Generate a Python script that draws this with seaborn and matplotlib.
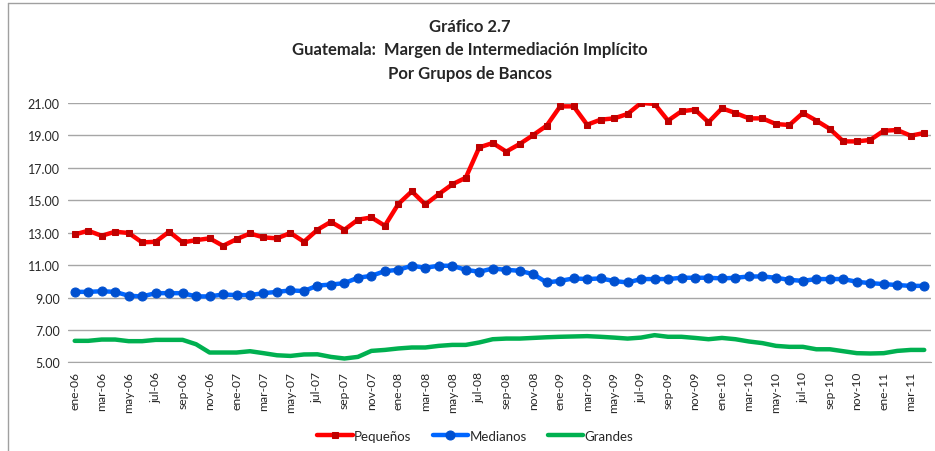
import numpy as np
import pandas as pd
import matplotlib
matplotlib.use("Agg")
import matplotlib.pyplot as plt
import seaborn as sns
from matplotlib.lines import Line2D

# monthly series, ene-06 .. abr-11
months_es = ["ene", "feb", "mar", "abr", "may", "jun",
             "jul", "ago", "sep", "oct", "nov", "dic"]
periods = [f"{months_es[m]}-{y:02d}" for y in range(6, 12) for m in range(12)][:64]

pequenos = [12.89, 13.12, 12.81, 13.06, 12.98, 12.40, 12.44, 13.06, 12.40, 12.54,
            12.65, 12.19, 12.60, 12.95, 12.71, 12.65, 12.98, 12.44, 13.18, 13.67,
            13.18, 13.80, 13.94, 13.43, 14.77, 15.55, 14.74, 15.38, 15.98, 16.39,
            18.26, 18.53, 18.00, 18.47, 19.02, 19.60, 20.79, 20.79, 19.66, 19.97,
            20.05, 20.32, 21.00, 20.94, 19.91, 20.49, 20.59, 19.81, 20.67, 20.38,
            20.05, 20.05, 19.70, 19.64, 20.38, 19.91, 19.40, 18.63, 18.63, 18.72,
            19.29, 19.33, 18.98, 19.15]

medianos = [9.35, 9.35, 9.39, 9.35, 9.11, 9.07, 9.27, 9.27, 9.27, 9.07,
            9.07, 9.19, 9.15, 9.15, 9.27, 9.35, 9.44, 9.40, 9.74, 9.80,
            9.89, 10.22, 10.34, 10.63, 10.71, 10.96, 10.84, 10.96, 10.96, 10.71,
            10.59, 10.79, 10.71, 10.65, 10.44, 9.93, 10.03, 10.18, 10.14, 10.18,
            10.02, 9.93, 10.14, 10.14, 10.14, 10.22, 10.22, 10.22, 10.18, 10.22,
            10.30, 10.30, 10.22, 10.09, 10.03, 10.14, 10.14, 10.14, 9.97, 9.89,
            9.83, 9.77, 9.72, 9.72]

grandes = [6.33, 6.33, 6.41, 6.41, 6.31, 6.31, 6.39, 6.39, 6.39, 6.12,
           5.61, 5.61, 5.61, 5.69, 5.57, 5.44, 5.40, 5.49, 5.50, 5.34,
           5.24, 5.34, 5.71, 5.77, 5.86, 5.92, 5.92, 6.02, 6.08, 6.08,
           6.23, 6.43, 6.47, 6.47, 6.51, 6.55, 6.58, 6.60, 6.62, 6.58,
           6.53, 6.47, 6.53, 6.68, 6.58, 6.58, 6.51, 6.43, 6.51, 6.43,
           6.29, 6.19, 6.02, 5.96, 5.96, 5.81, 5.81, 5.69, 5.57, 5.55,
           5.57, 5.71, 5.77, 5.77]

yticks = [5, 7, 9, 11, 13, 15, 17, 19, 21]

df = pd.DataFrame({"periodo": periods, "Pequeños": pequenos,
                   "Medianos": medianos, "Grandes": grandes})
df["x"] = np.arange(len(df))

sns.set_style("white")
plt.rcParams["font.family"] = ["Lato", "DejaVu Sans"]

fig = plt.figure(figsize=(9.35, 4.52), dpi=100)
ax = fig.add_axes([0.0727, 0.196, 0.9230, 0.574])

styles = [
    ("Pequeños", "#FF0000", "s", "#C00000", 5),
    ("Medianos", "#0066FF", "o", "#0050D0", 6.5),
    ("Grandes",  "#00B050", None, None, 0),
]
for name, color, marker, mec, ms in styles:
    sns.lineplot(data=df, x="x", y=name, ax=ax, color=color, linewidth=3.2,
                 marker=marker, markersize=ms, markeredgecolor=mec,
                 markerfacecolor=mec if mec else color, label=name)

ax.set_xlim(-0.5, len(df) - 0.5)
ax.set_ylim(5, 21)
ax.set_yticks(yticks)
ax.set_yticklabels([f"{v:.2f}" for v in yticks], fontsize=9)
ax.set_xticks(df["x"][::2])
ax.set_xticklabels(df["periodo"][::2], rotation=90, fontsize=8.7)
ax.tick_params(axis="both", length=0, pad=6)
ax.grid(True, axis="y", color="#a6a6a6", linewidth=1)
ax.set_axisbelow(True)
ax.set_xlabel("")
ax.set_ylabel("")
for side in ["top", "right", "left"]:
    ax.spines[side].set_visible(False)
ax.spines["bottom"].set_color("#a6a6a6")

ax.legend(loc="upper center", bbox_to_anchor=(0.472, -0.215), ncol=3,
          frameon=False, fontsize=9.5, handlelength=2.7, handletextpad=0.1,
          columnspacing=1.6)

fig.text(0.503, 0.94, "Gráfico 2.7", ha="center", va="center",
         fontsize=12, fontweight="bold")
fig.text(0.503, 0.889, "Guatemala:  Margen de Intermediación Implícito",
         ha="center", va="center", fontsize=12, fontweight="bold")
fig.text(0.503, 0.836, "Por Grupos de Bancos", ha="center", va="center",
         fontsize=12, fontweight="bold")

# outer chart frame
fig.add_artist(Line2D([0.009, 0.009], [0, 0.991], color="#a0a0a0", linewidth=1))
fig.add_artist(Line2D([0.009, 1.0], [0.991, 0.991], color="#a0a0a0", linewidth=1))

fig.savefig("out.png", dpi=100)
